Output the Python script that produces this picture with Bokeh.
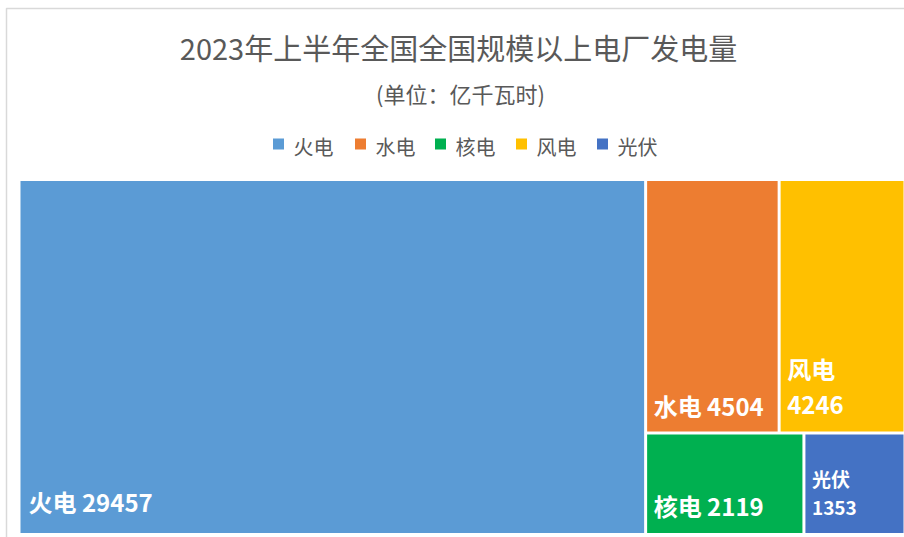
from bokeh.plotting import figure
from bokeh.models import Range1d
from bokeh.core.properties import value
from bokeh.embed import file_html
from bokeh.resources import INLINE

# ---- data ----
categories = ["火电", "水电", "核电", "风电", "光伏"]
values = [29457, 4504, 2119, 4246, 1353]
colors = ["#5B9BD5", "#ED7D31", "#00B050", "#FFC000", "#4472C4"]
title_text = "2023年上半年全国全国规模以上电厂发电量"
subtitle_text = "(单位：亿千瓦时)"

FONT = "Noto Sans CJK SC"
W, H = 904, 537

p = figure(width=W, height=H, output_backend="svg", toolbar_location=None,
           x_range=Range1d(0, W), y_range=Range1d(H, 0), min_border=0)
p.axis.visible = False
p.grid.visible = False
p.outline_line_color = None
p.background_fill_color = "white"
p.border_fill_color = "white"

# chart-area frame
p.quad(left=[6], right=[W + 10], top=[8], bottom=[H + 10], fill_color=None,
       line_color="#D9D9D9", line_width=1.5)

# title
p.text(x=[458], y=[46], text=[title_text], text_font=value(FONT), text_font_size="29px",
       text_color="#595959", text_align="center", text_baseline="middle")
p.text(x=[460], y=[92], text=[subtitle_text], text_font=value(FONT), text_font_size="22px",
       text_color="#595959", text_align="center", text_baseline="middle")

# legend
leg_x = [278, 360, 440, 521, 602]
for cx, cat, col in zip(leg_x, categories, colors):
    p.quad(left=[cx - 5.5], right=[cx + 5.5], top=[138], bottom=[149], fill_color=col, line_color=None)
    p.text(x=[cx + 15], y=[146], text=[cat], text_font=value(FONT), text_font_size="20px",
           text_color="#595959", text_align="left", text_baseline="middle")

# ---- treemap layout from values ----
X0, Y0, TW, TH = 20, 180.5, 884.5, 352
total = sum(values)
idx = {c: i for i, c in enumerate(categories)}
rects = {}
w0 = TW * values[0] / total
rects["火电"] = (X0, X0 + w0, Y0, Y0 + TH)
rows = [["水电", "风电"], ["核电", "光伏"]]
rest = total - values[0]
y = Y0
for row in rows:
    rs = sum(values[idx[c]] for c in row)
    rh = TH * rs / rest
    x = X0 + w0
    for c in row:
        cw = (TW - w0) * values[idx[c]] / rs
        rects[c] = (x, x + cw, y, y + rh)
        x += cw
    y += rh

G = 1.5
for c in categories:
    l, r, t, b = rects[c]
    p.quad(left=[l + (G if l > X0 else 0)], right=[r - G], top=[t + (G if t > Y0 else 0)],
           bottom=[b - (G if b < Y0 + TH - 1 else 0)],
           fill_color=colors[idx[c]], line_color=None)

for c in categories:
    l, r, t, b = rects[c]
    v = values[idx[c]]
    w = r - l
    h = b - t
    big = h > 80 and w > 120
    fs = 24 if big else 19
    off = 32 if w > 300 else (28 if big else 25)
    if w >= 130:
        p.text(x=[l + 8], y=[b - off], text=[f"{c} {v}"], text_font=value(FONT),
               text_font_size=f"{fs}px", text_font_style="bold", text_color="white",
               text_align="left", text_baseline="middle")
    else:
        p.text(x=[l + 8], y=[b - off], text=[str(v)], text_font=value(FONT),
               text_font_size=f"{fs}px", text_font_style="bold", text_color="white",
               text_align="left", text_baseline="middle")
        p.text(x=[l + 8], y=[b - off - (37 if big else 30)], text=[c], text_font=value(FONT),
               text_font_size=f"{fs}px", text_font_style="bold", text_color="white",
               text_align="left", text_baseline="middle")

open("out.html", "w").write(file_html(p, INLINE))
